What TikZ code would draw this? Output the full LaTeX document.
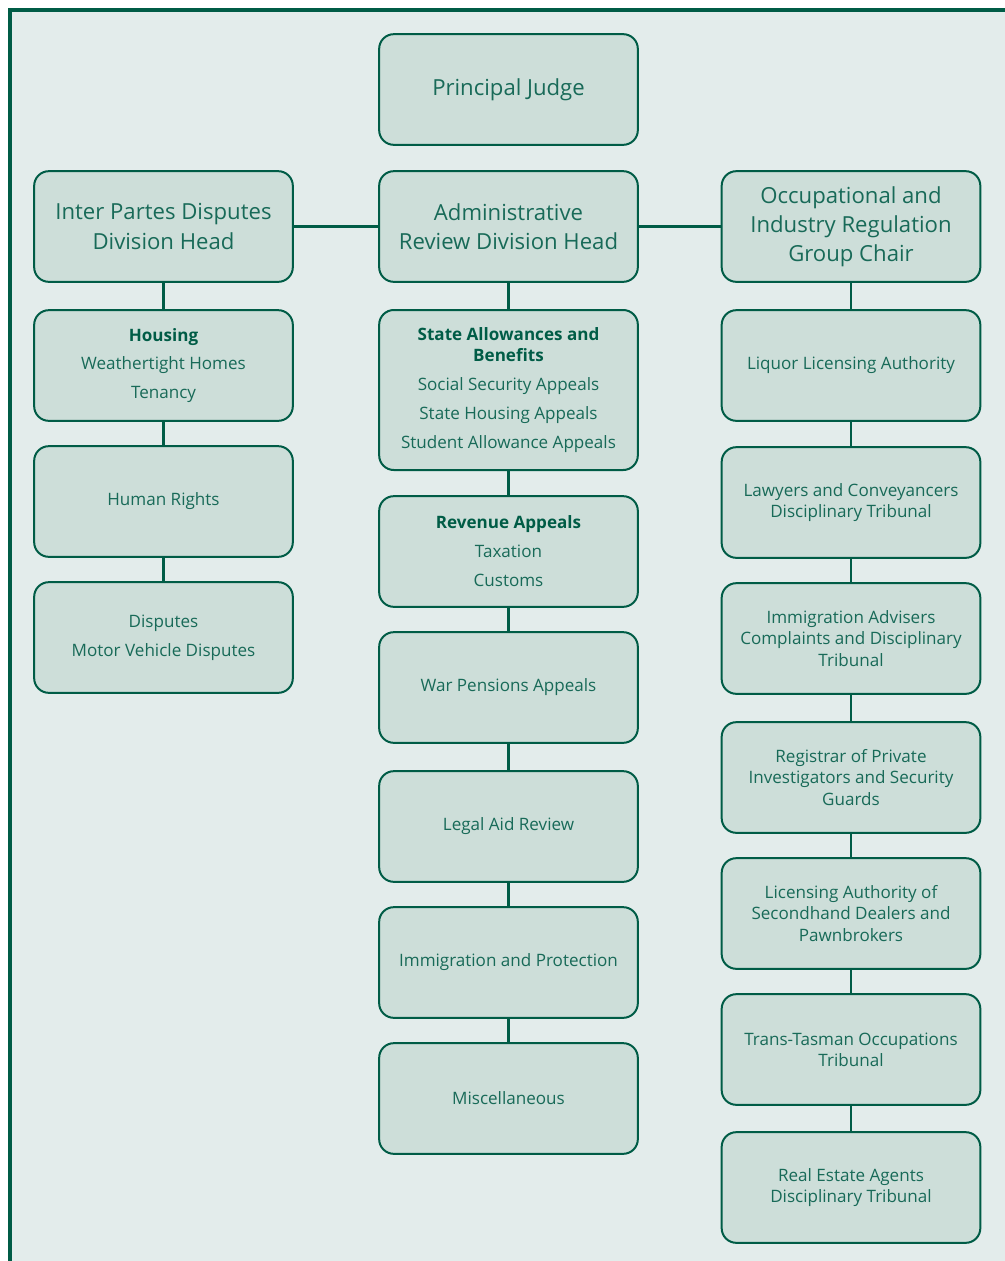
\documentclass[tikz,border=0pt]{standalone}
\usepackage{fontspec}
\setmainfont{Open Sans}
\usetikzlibrary{positioning}
\definecolor{trgreen}{RGB}{0,92,70}
\definecolor{trtext}{RGB}{24,106,88}
\definecolor{trbox}{RGB}{205,222,217}
\definecolor{trback}{RGB}{227,236,235}

\begin{document}
\begin{tikzpicture}[x=0.75pt,y=-0.75pt,
    unit/.style={rectangle, rounded corners=11pt, draw=trgreen, line width=1.5pt, fill=trbox,
        minimum width=194pt, minimum height=83pt, align=center, text=trtext,
        font=\fontsize{12.8}{15.9}\selectfont},
    head/.style={unit, font=\fontsize{16.6}{21.9}\selectfont},
    tall/.style={unit, minimum height=120pt},
    link/.style={draw=trgreen, line width=1.6pt},
]
    % Frame
    \useasboundingbox (0,0) rectangle (1005,1261);
    \fill[trback] (10,10) rectangle (1005,1261);
    \draw[trgreen, line width=2.6pt] (10,1261) -- (10,10) -- (1005,10);

    % Top row
    \node[head] (pj) at (508.5,89.5) {Principal Judge};
    \node[head] (ipd) at (163.5,226.5) {Inter Partes Disputes\\Division Head};
    \node[head] (ard) at (508.5,226.5) {Administrative\\Review Division Head};
    \node[head] (oir) at (851,226.5) {Occupational and\\Industry Regulation\\Group Chair};

    % Inter Partes column
    \node[unit] (hous) at (163.5,365.5) {\textbf{\color{trgreen}Housing}\\[5.8pt]Weathertight Homes\\[5.8pt]Tenancy};
    \node[unit] (hr) at (163.5,501.5) {Human Rights};
    \node[unit] (disp) at (163.5,637.5) {Disputes\\[5.8pt]Motor Vehicle Disputes};

    % Administrative Review column
    \node[tall] (sab) at (508.5,390) {\textbf{\color{trgreen}State Allowances and}\\\textbf{\color{trgreen}Benefits}\\[5.8pt]Social Security Appeals\\[5.8pt]State Housing Appeals\\[5.8pt]Student Allowance Appeals};
    \node[unit] (rev) at (508.5,551.5) {\textbf{\color{trgreen}Revenue Appeals}\\[5.8pt]Taxation\\[5.8pt]Customs};
    \node[unit] (war) at (508.5,687.5) {War Pensions Appeals};
    \node[unit] (lar) at (508.5,826.5) {Legal Aid Review};
    \node[unit] (imm) at (508.5,962.5) {Immigration and Protection};
    \node[unit] (misc) at (508.5,1098.5) {Miscellaneous};

    % Occupational column
    \node[unit] (lla) at (851,365.5) {Liquor Licensing Authority};
    \node[unit] (lcdt) at (851,502.5) {Lawyers and Conveyancers\\Disciplinary Tribunal};
    \node[unit] (iacd) at (851,638.5) {Immigration Advisers\\Complaints and Disciplinary\\Tribunal};
    \node[unit] (rpi) at (851,777.5) {Registrar of Private\\Investigators and Security\\Guards};
    \node[unit] (lasd) at (851,913.5) {Licensing Authority of\\Secondhand Dealers and\\Pawnbrokers};
    \node[unit] (tto) at (851,1049.5) {Trans-Tasman Occupations\\Tribunal};
    \node[unit] (rea) at (851,1187.5) {Real Estate Agents\\Disciplinary Tribunal};

    % Links
    \draw[link] (ipd.east) -- (ard.west);
    \draw[link] (ard.east) -- (oir.west);
    \draw[link] (ipd) -- (hous);
    \draw[link] (hous) -- (hr);
    \draw[link] (hr) -- (disp);
    \draw[link] (ard) -- (sab);
    \draw[link] (sab) -- (rev);
    \draw[link] (rev) -- (war);
    \draw[link] (war) -- (lar);
    \draw[link] (lar) -- (imm);
    \draw[link] (imm) -- (misc);
    \draw[link] (oir) -- (lla);
    \draw[link] (lla) -- (lcdt);
    \draw[link] (lcdt) -- (iacd);
    \draw[link] (iacd) -- (rpi);
    \draw[link] (rpi) -- (lasd);
    \draw[link] (lasd) -- (tto);
    \draw[link] (tto) -- (rea);
\end{tikzpicture}
\end{document}
